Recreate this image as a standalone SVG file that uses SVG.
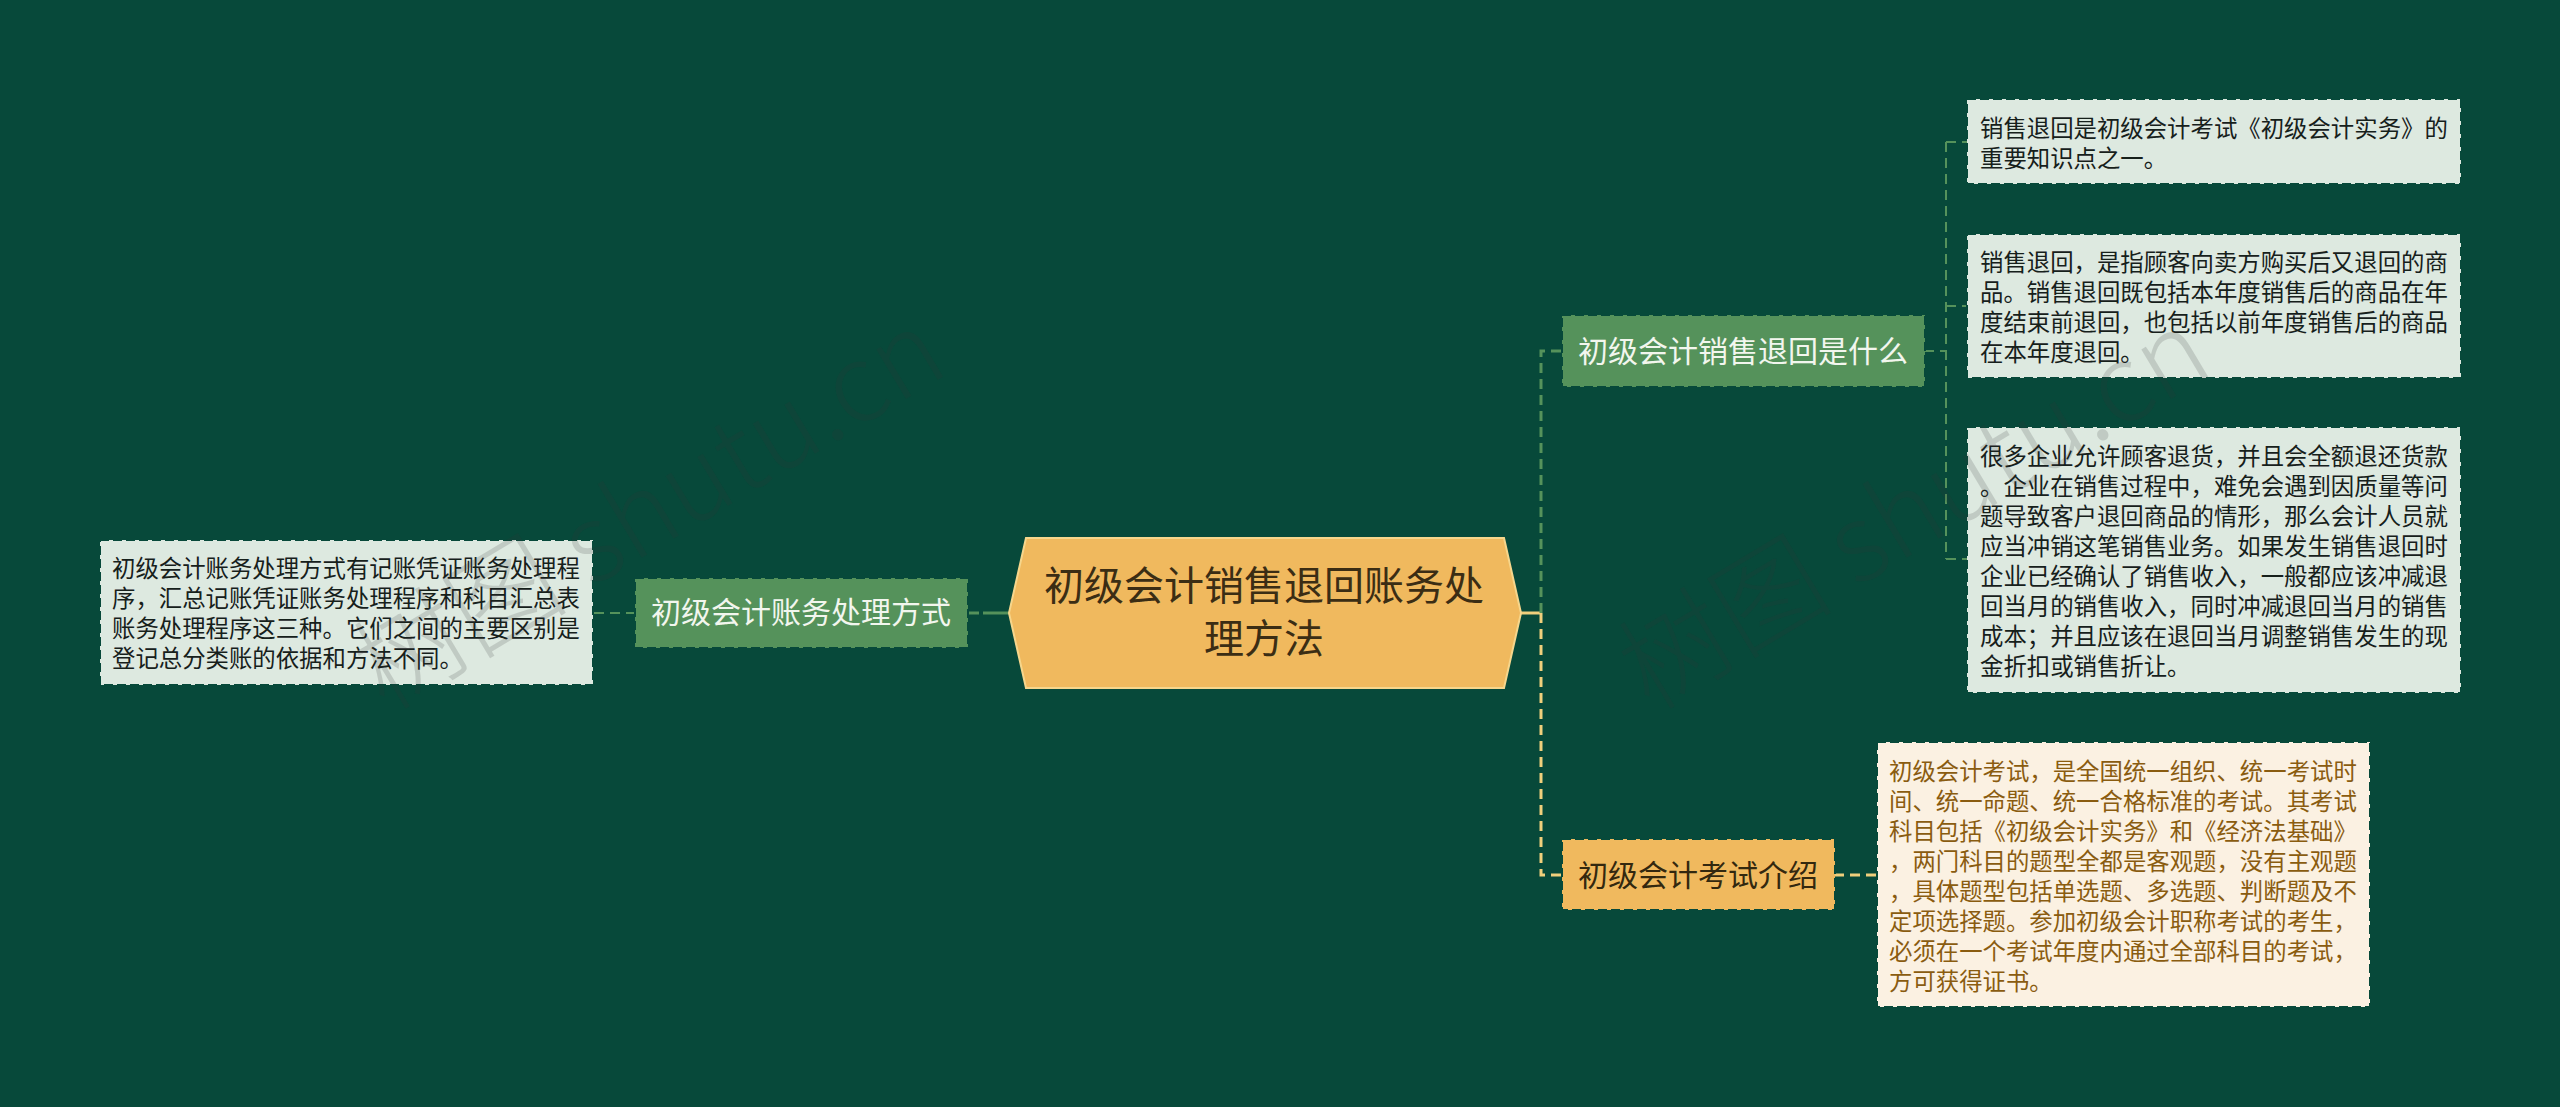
<svg xmlns="http://www.w3.org/2000/svg" width="2560" height="1107" viewBox="0 0 2560 1107">
<style>
text{font-family:"Noto Sans CJK SC","Noto Sans",sans-serif}
.leaf{fill:#dde9e0;stroke:#07493a;stroke-width:2;stroke-dasharray:9 4}
.leaf-o{fill:#fbf1e2;stroke:#07493a;stroke-width:2;stroke-dasharray:9 4}
.mid-g{fill:#55925b;stroke:#07493a;stroke-width:2;stroke-dasharray:9 4}
.mid-o{fill:#f0b95e;stroke:#07493a;stroke-width:2;stroke-dasharray:9 4}
.t{font-size:23.4px;fill:#16201b}
.t-o{font-size:23.4px;fill:#8a5c10}
.m{font-size:30px;text-anchor:middle}
.c{fill:none;stroke-width:2}
.cg{stroke:#55925b;stroke-dasharray:10 6}
.cy{stroke:#f0cf7c;stroke-width:3;stroke-dasharray:10 6}
.wm{font-size:108px;font-weight:300;fill:#333;fill-opacity:.17}
</style>
<rect width="2560" height="1107" fill="#07493a"/>
<g id="connectors">
<path class="c" d="M1521 613H1541" stroke="#f0cf7c" style="stroke-width:3"/>
<path class="c cg" style="stroke-width:3" d="M1541 613V351H1562"/>
<path class="c cy" d="M1541 613V875H1562"/>
<path class="c" stroke="#55925b" style="stroke-width:3;stroke-dasharray:26 4" d="M1009 613H967"/>
<path class="c cg" d="M636 613H593"/>
<path class="c cg" d="M1924 351H1946"/>
<path class="c cg" d="M1946 142V559"/>
<path class="c cg" d="M1946 142H1967"/>
<path class="c cg" d="M1946 306H1967"/>
<path class="c cg" d="M1946 559H1967"/>
<path class="c cy" d="M1834 875H1877"/>
</g>
<g id="root">
<polygon points="1026,538 1504,538 1521,613 1504,688 1026,688 1009,613" fill="#f0b95e" stroke="#f6d68c" stroke-width="2"/>
<text x="1264" y="600" font-size="40" text-anchor="middle" fill="#3b2d14">初级会计销售退回账务处</text>
<text x="1264" y="653" font-size="40" text-anchor="middle" fill="#3b2d14">理方法</text>
</g>
<g id="node-left">
<rect class="mid-g" x="635" y="578" width="333" height="70"/>
<text class="m" x="801" y="623" fill="#f2f6ee">初级会计账务处理方式</text>
</g>
<g id="leaf-left">
<rect class="leaf" x="100" y="540" width="493" height="145"/>
<text class="t" x="112" y="577">初级会计账务处理方式有记账凭证账务处理程</text>
<text class="t" x="112" y="607">序，汇总记账凭证账务处理程序和科目汇总表</text>
<text class="t" x="112" y="637">账务处理程序这三种。它们之间的主要区别是</text>
<text class="t" x="112" y="667">登记总分类账的依据和方法不同。</text>
</g>
<g id="node-top">
<rect class="mid-g" x="1562" y="315" width="363" height="72"/>
<text class="m" x="1743" y="362" fill="#f2f6ee">初级会计销售退回是什么</text>
</g>
<g id="leaf-1">
<rect class="leaf" x="1967" y="99" width="494" height="85"/>
<text class="t" x="1980" y="137">销售退回是初级会计考试《初级会计实务》的</text>
<text class="t" x="1980" y="167">重要知识点之一。</text>
</g>
<g id="leaf-2">
<rect class="leaf" x="1967" y="234" width="494" height="144"/>
<text class="t" x="1980" y="271">销售退回，是指顾客向卖方购买后又退回的商</text>
<text class="t" x="1980" y="301">品。销售退回既包括本年度销售后的商品在年</text>
<text class="t" x="1980" y="331">度结束前退回，也包括以前年度销售后的商品</text>
<text class="t" x="1980" y="361">在本年度退回。</text>
</g>
<g id="leaf-3">
<rect class="leaf" x="1967" y="427" width="494" height="266"/>
<text class="t" x="1980" y="465">很多企业允许顾客退货，并且会全额退还货款</text>
<text class="t" x="1980" y="495">。企业在销售过程中，难免会遇到因质量等问</text>
<text class="t" x="1980" y="525">题导致客户退回商品的情形，那么会计人员就</text>
<text class="t" x="1980" y="555">应当冲销这笔销售业务。如果发生销售退回时</text>
<text class="t" x="1980" y="585">企业已经确认了销售收入，一般都应该冲减退</text>
<text class="t" x="1980" y="615">回当月的销售收入，同时冲减退回当月的销售</text>
<text class="t" x="1980" y="645">成本；并且应该在退回当月调整销售发生的现</text>
<text class="t" x="1980" y="675">金折扣或销售折让。</text>
</g>
<g id="node-bottom">
<rect class="mid-o" x="1562" y="839" width="273" height="71"/>
<text class="m" x="1698" y="886" fill="#33280f">初级会计考试介绍</text>
</g>
<g id="leaf-4">
<rect class="leaf-o" x="1877" y="742" width="493" height="265"/>
<text class="t-o" x="1889" y="780">初级会计考试，是全国统一组织、统一考试时</text>
<text class="t-o" x="1889" y="810">间、统一命题、统一合格标准的考试。其考试</text>
<text class="t-o" x="1889" y="840">科目包括《初级会计实务》和《经济法基础》</text>
<text class="t-o" x="1889" y="870">，两门科目的题型全都是客观题，没有主观题</text>
<text class="t-o" x="1889" y="900">，具体题型包括单选题、多选题、判断题及不</text>
<text class="t-o" x="1889" y="930">定项选择题。参加初级会计职称考试的考生，</text>
<text class="t-o" x="1889" y="960">必须在一个考试年度内通过全部科目的考试，</text>
<text class="t-o" x="1889" y="990">方可获得证书。</text>
</g>
<g id="watermark">
<text class="wm" transform="translate(385 712) rotate(-31)">树图 shutu.cn</text>
<text class="wm" transform="translate(1650 712) rotate(-31)">树图 shutu.cn</text>
</g>
</svg>
